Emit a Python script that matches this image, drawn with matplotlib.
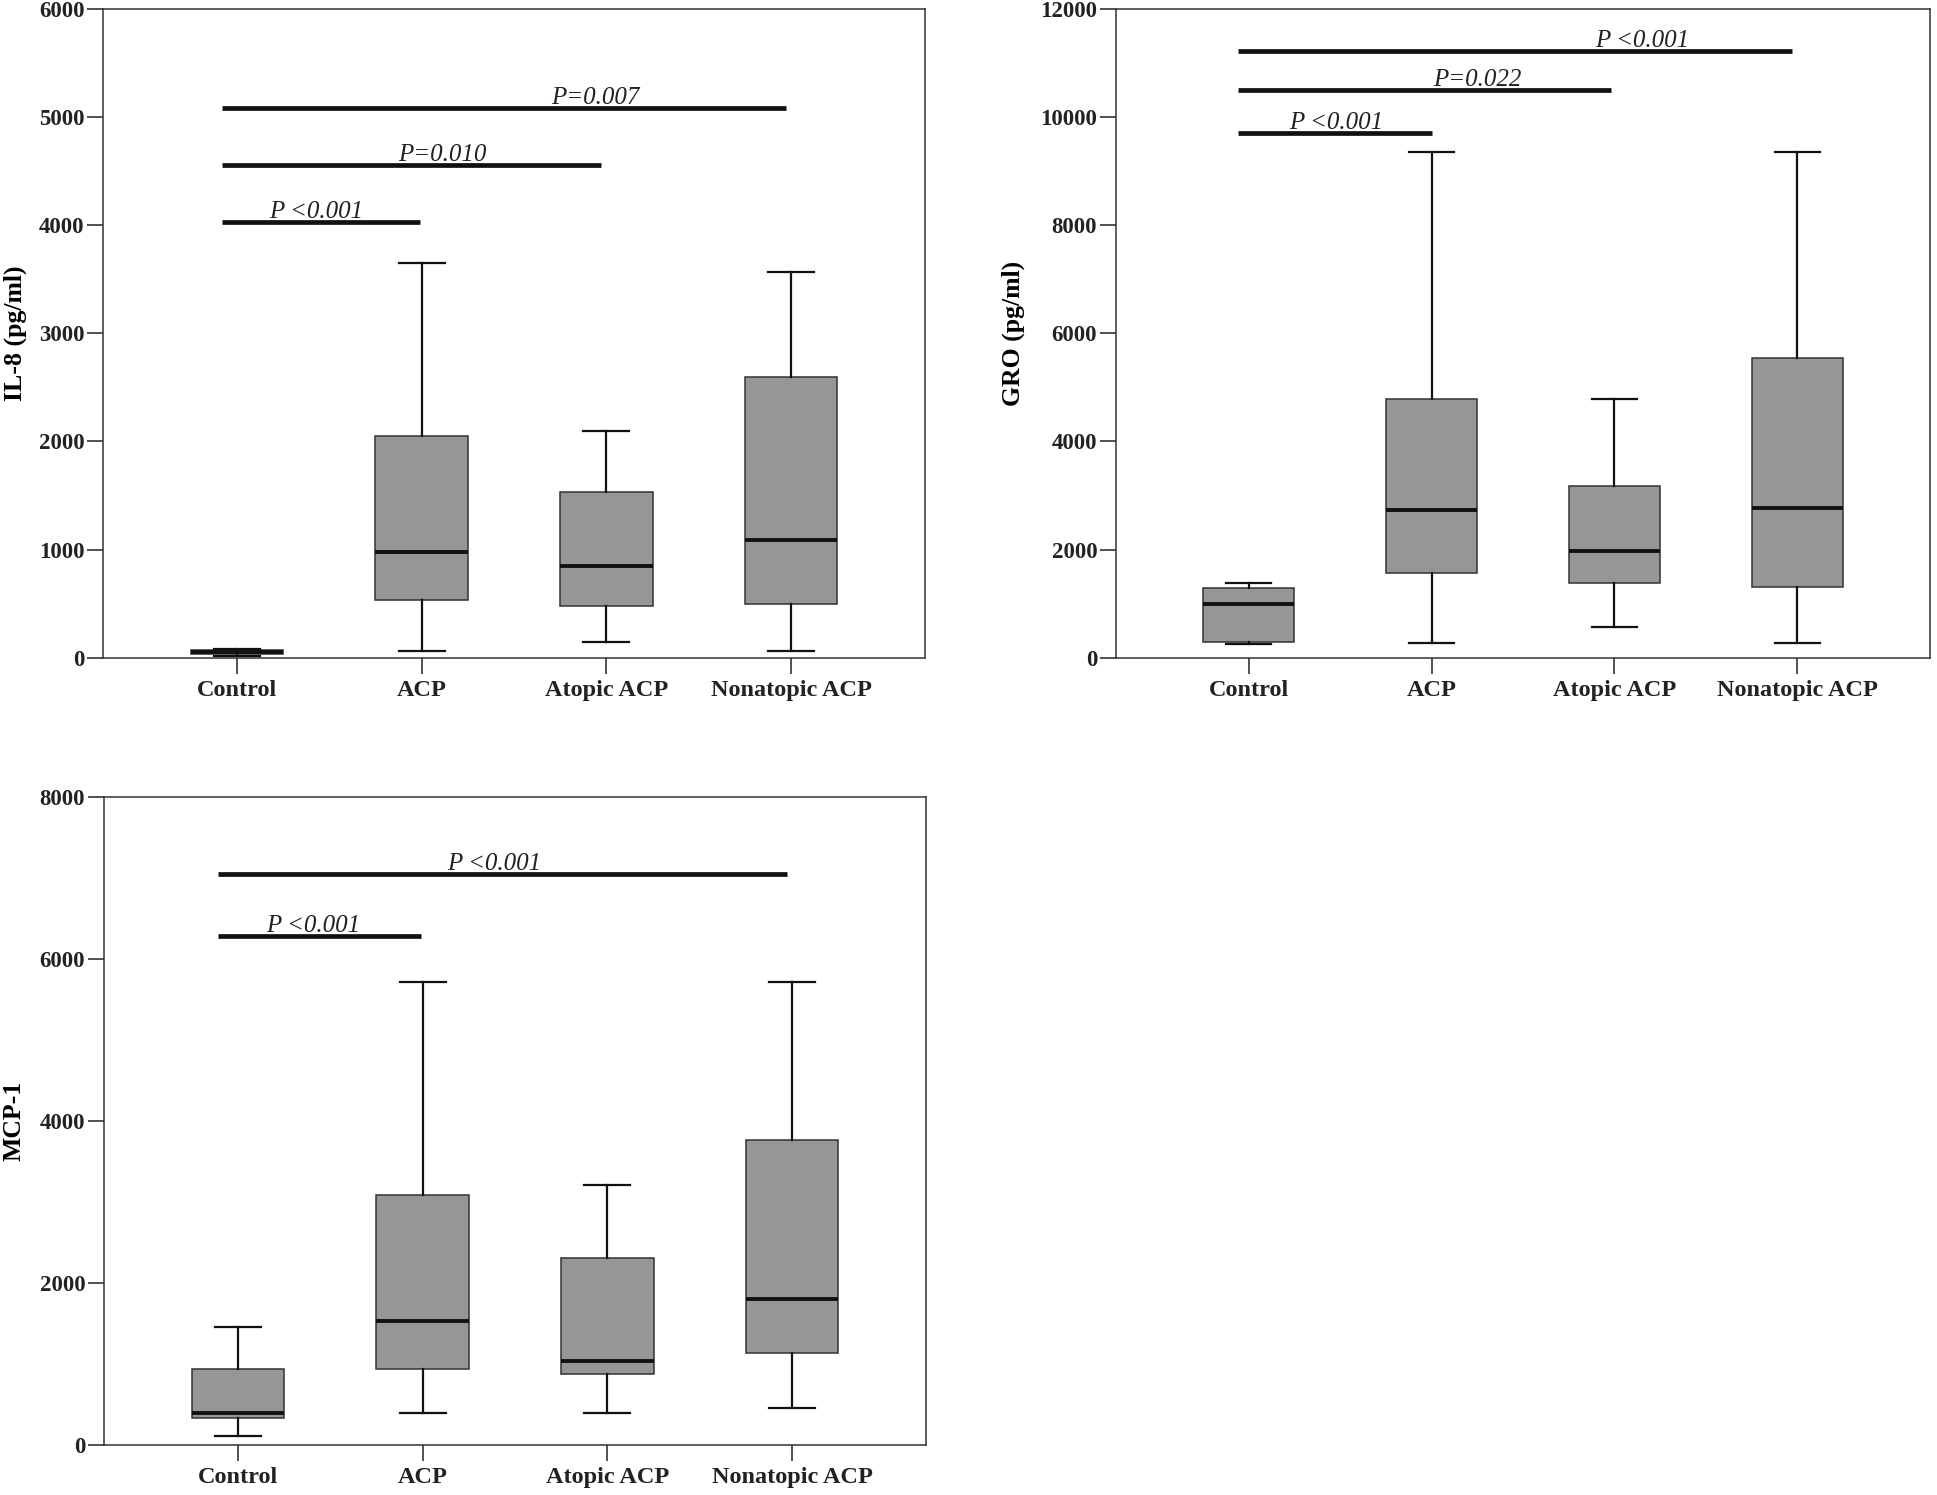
import matplotlib
matplotlib.use('Agg')
import matplotlib.pyplot as plt

# --- DATA ---
CATS = ['Control', 'ACP', 'Atopic ACP', 'Nonatopic ACP']

# IL-8 (pg/ml)
il8_whislo = [15, 65, 148, 65]
il8_q1 = [30, 538, 480, 497]
il8_med = [55, 976, 850, 1088]
il8_q3 = [75, 2046, 1535, 2598]
il8_whishi = [82, 3648, 2099, 3565]

# GRO (pg/ml)
gro_whislo = [248, 265, 575, 265]
gro_q1 = [282, 1570, 1385, 1316]
gro_med = [990, 2738, 1980, 2768]
gro_q3 = [1297, 4786, 3177, 5540]
gro_whishi = [1380, 9354, 4786, 9354]

# MCP-1
mcp_whislo = [115, 394, 394, 458]
mcp_q1 = [338, 936, 880, 1140]
mcp_med = [392, 1533, 1032, 1805]
mcp_q3 = [936, 3085, 2313, 3763]
mcp_whishi = [1455, 5718, 3205, 5718]

# significance bars: y level, end x, label, label x
il8_sig_y = [4030, 4560, 5085]
il8_sig_end = [1.99, 2.97, 3.97]
il8_sig_txt = ['P <0.001', 'P=0.010', 'P=0.007']
il8_sig_tx = [1.43, 2.11, 2.94]

gro_sig_y = [9700, 10500, 11220]
gro_sig_end = [2.0, 2.98, 3.97]
gro_sig_txt = ['P <0.001', 'P=0.022', 'P <0.001']
gro_sig_tx = [1.48, 2.25, 3.15]

mcp_sig_y = [6280, 7045]
mcp_sig_end = [1.99, 3.97]
mcp_sig_txt = ['P <0.001', 'P <0.001']
mcp_sig_tx = [1.41, 2.39]

# --- STYLE ---
SERIF = 'Liberation Serif'
BOX_GRAY = '#969696'
INK = '#111111'
W, H = 1937, 1495


def px_axes(left, top, right, bottom):
    return [left / W, 1 - bottom / H, (right - left) / W, (bottom - top) / H]


def draw_panel(ax, whislo, q1, med, q3, whishi, ymax, ystep, ylabel,
               sig_start, sig_y, sig_end, sig_txt, sig_tx, label_x):
    stats = []
    for i in range(len(CATS)):
        stats.append(dict(whislo=whislo[i], q1=q1[i], med=med[i], q3=q3[i],
                          whishi=whishi[i], fliers=[]))
    ax.bxp(stats, positions=range(1, len(CATS) + 1), widths=0.5,
           patch_artist=True, showfliers=False,
           boxprops=dict(facecolor=BOX_GRAY, edgecolor='#333333', linewidth=1.1),
           medianprops=dict(color=INK, linewidth=2.8, solid_capstyle='butt'),
           whiskerprops=dict(color=INK, linewidth=1.6),
           capprops=dict(color=INK, linewidth=1.6),
           capwidths=0.25)

    for y, x1, txt, tx in zip(sig_y, sig_end, sig_txt, sig_tx):
        ax.plot([sig_start, x1], [y, y], color=INK, lw=3.4, solid_capstyle='butt', zorder=5)
        ax.annotate(txt, xy=(tx, y), xytext=(0, 3), textcoords='offset points',
                    ha='center', va='baseline', fontsize=18, family=SERIF,
                    style='italic', color='#222222')

    ax.set_xlim(0.275, 4.725)
    ax.set_ylim(0, ymax)
    ax.set_yticks(range(0, ymax + 1, ystep))
    ax.set_xticks(range(1, len(CATS) + 1))
    ax.set_xticklabels(CATS)
    for lab in ax.get_xticklabels():
        lab.set_fontfamily(SERIF)
        lab.set_fontweight('bold')
        lab.set_fontsize(17.5)
    for lab in ax.get_yticklabels():
        lab.set_fontfamily(SERIF)
        lab.set_fontweight('bold')
        lab.set_fontsize(16.5)
    ax.tick_params(direction='out', length=11.5, width=1.1, pad=2, colors='#222222')
    ax.tick_params(axis='x', pad=4.5)
    for sp in ax.spines.values():
        sp.set_linewidth(1.1)
        sp.set_color('#333333')
    ax.set_ylabel(ylabel, fontsize=18.5, fontweight='bold', family=SERIF)
    ax.yaxis.set_label_coords(label_x, 0.5)


fig = plt.figure(figsize=(W / 100, H / 100), dpi=100)
fig.patch.set_facecolor('white')

ax1 = fig.add_axes(px_axes(103, 9, 925, 657.7))
draw_panel(ax1, il8_whislo, il8_q1, il8_med, il8_q3, il8_whishi, 6000, 1000,
           'IL-8 (pg/ml)', 0.92, il8_sig_y, il8_sig_end, il8_sig_txt, il8_sig_tx, -0.092)

ax2 = fig.add_axes(px_axes(1116, 9, 1930, 657.7))
draw_panel(ax2, gro_whislo, gro_q1, gro_med, gro_q3, gro_whishi, 12000, 2000,
           'GRO (pg/ml)', 0.94, gro_sig_y, gro_sig_end, gro_sig_txt, gro_sig_tx, -0.112)

ax3 = fig.add_axes(px_axes(104, 797, 926, 1445))
draw_panel(ax3, mcp_whislo, mcp_q1, mcp_med, mcp_q3, mcp_whishi, 8000, 2000,
           'MCP-1', 0.89, mcp_sig_y, mcp_sig_end, mcp_sig_txt, mcp_sig_tx, -0.095)

fig.savefig('out.png', dpi=100)
